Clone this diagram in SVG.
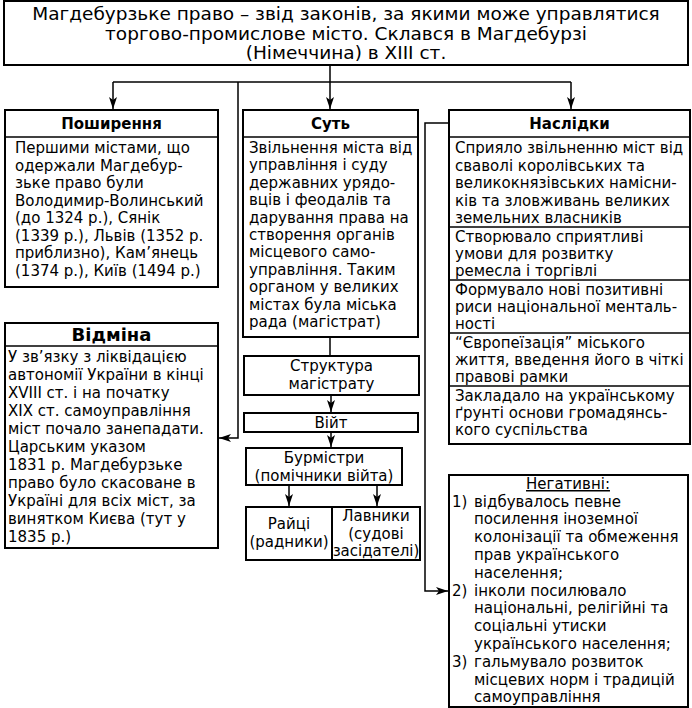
<svg xmlns="http://www.w3.org/2000/svg" width="692" height="708" viewBox="0 0 692 708">
<defs>
<marker id="arr" viewBox="0 0 12 8" refX="12" refY="4" markerWidth="12" markerHeight="8" markerUnits="userSpaceOnUse" orient="auto"><path d="M0,0 L12,4 L0,8 L3,4 z" fill="#000"/></marker>
<style>
.box{fill:#fff;stroke:#000;stroke-width:2}
.ln{fill:none;stroke:#000;stroke-width:1.5}
.sep{fill:none;stroke:#000;stroke-width:1.5}
text{font-family:"DejaVu Sans","Liberation Sans",sans-serif;font-size:15px;fill:#000}
.ttl{font-size:18.5px}
.h{font-weight:bold}
.big{font-size:18px}
.c{text-anchor:middle}
</style>
</defs>
<rect width="692" height="708" fill="#fff"/>

<g id="title">
<rect class="box" x="4" y="1" width="684" height="64"/>
<text class="ttl c" x="346" y="20">Магдебурзьке право – звід законів, за якими може управлятися</text>
<text class="ttl c" x="346" y="40">торгово-промислове місто. Склався в Магдебурзі</text>
<text class="ttl c" x="346" y="59">(Німеччина) в XIII ст.</text>
</g>

<g id="poshyrennia">
<rect class="box" x="5" y="110" width="213" height="177"/>
<line class="sep" x1="5" y1="137" x2="218" y2="137"/>
<text class="h c" x="111.5" y="129">Поширення</text>
<text x="15" y="153">Першими містами, що</text>
<text x="15" y="170.5">одержали Магдебур-</text>
<text x="15" y="188">зьке право були</text>
<text x="15" y="205.5">Володимир-Волинський</text>
<text x="15" y="223">(до 1324 р.), Сянік</text>
<text x="15" y="240.5">(1339 р.), Львів (1352 р.</text>
<text x="15" y="258">приблизно), Кам’янець</text>
<text x="15" y="275.5">(1374 р.), Київ (1494 р.)</text>
</g>

<g id="sut">
<rect class="box" x="243" y="110" width="175" height="227"/>
<line class="sep" x1="243" y1="137" x2="418" y2="137"/>
<text class="h c" x="330.5" y="129">Суть</text>
<text x="249" y="153">Звільнення міста від</text>
<text x="249" y="170.4">управління і суду</text>
<text x="249" y="187.8">державних урядо-</text>
<text x="249" y="205.2">вців і феодалів та</text>
<text x="249" y="222.6">дарування права на</text>
<text x="249" y="240">створення органів</text>
<text x="249" y="257.4">місцевого само-</text>
<text x="249" y="274.8">управління. Таким</text>
<text x="249" y="292.2">органом у великих</text>
<text x="249" y="309.6">містах була міська</text>
<text x="249" y="327">рада (магістрат)</text>
</g>

<g id="naslidky">
<rect class="box" x="449" y="110" width="241" height="334"/>
<line class="sep" x1="449" y1="137" x2="690" y2="137"/>
<line class="sep" x1="449" y1="227" x2="690" y2="227"/>
<line class="sep" x1="449" y1="280" x2="690" y2="280"/>
<line class="sep" x1="449" y1="333" x2="690" y2="333"/>
<line class="sep" x1="449" y1="386" x2="690" y2="386"/>
<text class="h c" x="569.5" y="129">Наслідки</text>
<text x="455" y="153">Сприяло звільненню міст від</text>
<text x="455" y="170.5">сваволі королівських та</text>
<text x="455" y="188">великокнязівських намісни-</text>
<text x="455" y="205.5">ків та зловживань великих</text>
<text x="455" y="223">земельних власників</text>
<text x="455" y="242">Створювало сприятливі</text>
<text x="455" y="259">умови для розвитку</text>
<text x="455" y="276">ремесла і торгівлі</text>
<text x="455" y="295">Формувало нові позитивні</text>
<text x="455" y="312">риси національної менталь-</text>
<text x="455" y="329">ності</text>
<text x="455" y="348">“Європеїзація” міського</text>
<text x="455" y="365">життя, введення його в чіткі</text>
<text x="455" y="382">правові рамки</text>
<text x="455" y="401">Закладало на українському</text>
<text x="455" y="418">ґрунті основи громадянсь-</text>
<text x="455" y="435">кого суспільства</text>
</g>

<g id="vidmina">
<rect class="box" x="5" y="323" width="213" height="225"/>
<line class="sep" x1="5" y1="346" x2="218" y2="346"/>
<text class="h big c" x="111.5" y="341">Відміна</text>
<text x="8" y="362">У зв’язку з ліквідацією</text>
<text x="8" y="380">автономії України в кінці</text>
<text x="8" y="398">XVIII ст. і на початку</text>
<text x="8" y="416">XIX ст. самоуправління</text>
<text x="8" y="434">міст почало занепадати.</text>
<text x="8" y="452">Царським указом</text>
<text x="8" y="470">1831 р. Магдебурзьке</text>
<text x="8" y="488">право було скасоване в</text>
<text x="8" y="506">Україні для всіх міст, за</text>
<text x="8" y="524">винятком Києва (тут у</text>
<text x="8" y="542">1835 р.)</text>
</g>

<g id="struktura">
<rect class="box" x="244" y="356" width="175" height="39"/>
<text class="c" x="331.5" y="371">Структура</text>
<text class="c" x="331.5" y="389">магістрату</text>
</g>

<g id="viit">
<rect class="box" x="244" y="413" width="174" height="19"/>
<text class="c" x="331" y="428">Війт</text>
</g>

<g id="burmistry">
<rect class="box" x="246" y="448" width="156" height="37"/>
<text class="c" x="324" y="463">Бурмістри</text>
<text class="c" x="324" y="481">(помічники війта)</text>
</g>

<g id="raitsi">
<rect class="box" x="246" y="507" width="86" height="53"/>
<text class="c" x="289" y="529">Райці</text>
<text class="c" x="289" y="547">(радники)</text>
</g>

<g id="lavnyky">
<rect class="box" x="332" y="507" width="88" height="53"/>
<text class="c" x="376" y="521">Лавники</text>
<text class="c" x="376" y="539">(судові</text>
<text class="c" x="376" y="556">засідателі)</text>
</g>

<g id="negatyvni">
<rect class="box" x="449" y="475" width="239" height="232"/>
<text class="c" x="568" y="489" text-decoration="underline">Негативні:</text>
<text x="452" y="506.5">1)</text>
<text x="474" y="506.5">відбувалось певне</text>
<text x="474" y="524.3">посилення іноземної</text>
<text x="474" y="542.1">колонізації та обмеження</text>
<text x="474" y="559.9">прав українського</text>
<text x="474" y="577.7">населення;</text>
<text x="452" y="595.5">2)</text>
<text x="474" y="595.5">інколи посилювало</text>
<text x="474" y="613.3">національні, релігійні та</text>
<text x="474" y="631.1">соціальні утиски</text>
<text x="474" y="648.9">українського населення;</text>
<text x="452" y="666.7">3)</text>
<text x="474" y="666.7">гальмувало розвиток</text>
<text x="474" y="684.5">місцевих норм і традицій</text>
<text x="474" y="702">самоуправління</text>
</g>

<g id="connectors">
<path class="ln" d="M330,65 V82"/>
<path class="ln" d="M113,82 H571"/>
<path class="ln" d="M113,82 V109" marker-end="url(#arr)"/>
<path class="ln" d="M330,82 V109" marker-end="url(#arr)"/>
<path class="ln" d="M571,82 V109" marker-end="url(#arr)"/>
<path class="ln" d="M238,82 V438 H219" marker-end="url(#arr)"/>
<path class="ln" d="M330,337 V356"/>
<path class="ln" d="M331,395 V412" marker-end="url(#arr)"/>
<path class="ln" d="M331,432 V447" marker-end="url(#arr)"/>
<path class="ln" d="M289,485 V506" marker-end="url(#arr)"/>
<path class="ln" d="M377,485 V506" marker-end="url(#arr)"/>
<path class="ln" d="M449,123 H425 V591 H448" marker-end="url(#arr)"/>
</g>
</svg>
